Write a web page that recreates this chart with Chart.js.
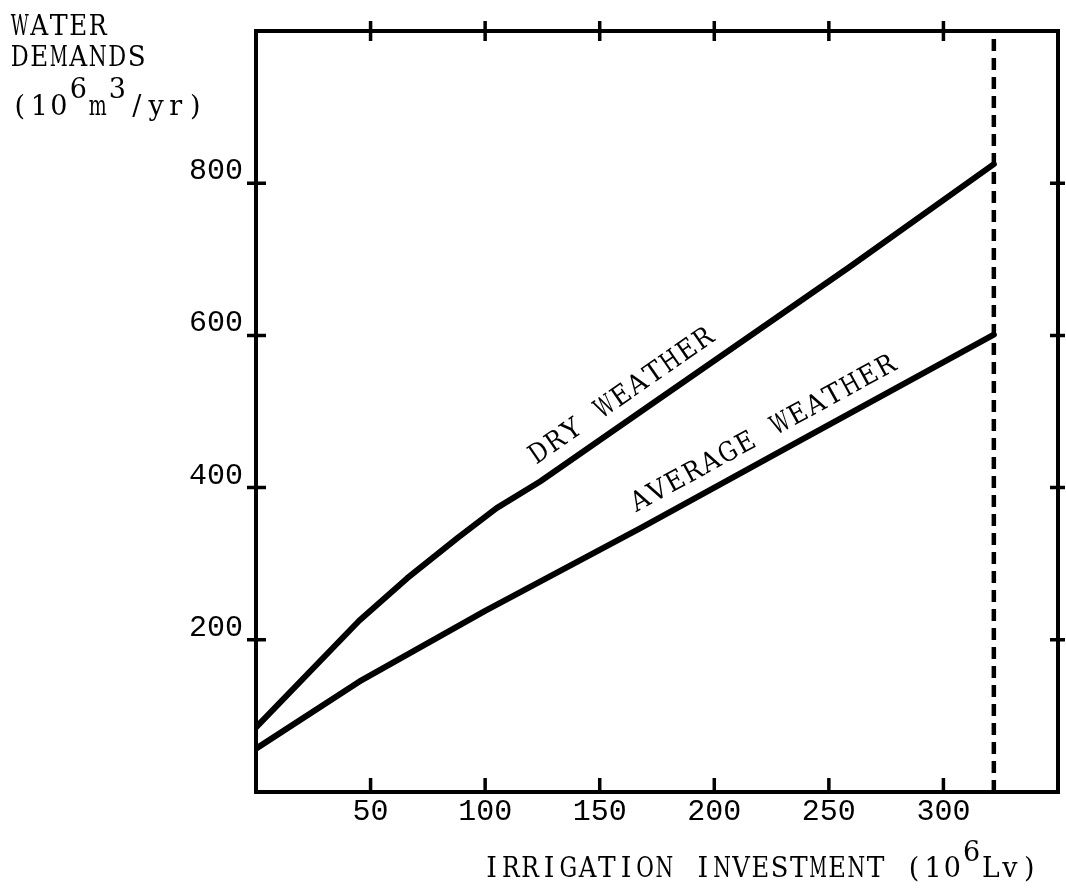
<!DOCTYPE html>
<html><head><meta charset="utf-8">
<script src="https://cdn.jsdelivr.net/npm/chart.js@4.4.0/dist/chart.umd.min.js"></script>
<style>html,body{margin:0;padding:0;background:#fff;overflow:hidden}canvas{display:block}</style>
</head><body>
<canvas id="c" width="1066" height="894"></canvas>
<script>
// ---- data ----
const xTickValues = [50, 100, 150, 200, 250, 300];
const yTickValues = [200, 400, 600, 800];
const dryX = [0, 45, 66, 88, 105, 124, 168, 259, 322];
const dryY = [85, 225, 281, 334, 373, 408, 500, 690, 825];
const avgX = [0, 45, 100, 168, 237, 322];
const avgY = [57, 145, 238, 347, 461, 601];
const limitX = 322;
const xRange = [0, 350];
const yRange = [0, 1000];
const dryLabel = 'DRY WEATHER';
const avgLabel = 'AVERAGE WEATHER';
const yTitleLines = [
  [['WATER', 0]],
  [['DEMANDS', 0]],
  [['(10', 0], ['6', 1], ['m', 0], ['3', 1], ['/yr)', 0]]
];
const xTitle = [['IRRIGATION INVESTMENT (10', 0], ['6', 1], ['Lv)', 0]];

// ---- helpers ----
const SERIF = '"DejaVu Serif", "Liberation Serif", serif';
function interp(xs, ys, v) {
  for (let i = 0; i < xs.length - 1; i++) {
    if (v >= xs[i] && v <= xs[i + 1]) {
      const t = (v - xs[i]) / (xs[i + 1] - xs[i]);
      return ys[i] + t * (ys[i + 1] - ys[i]);
    }
  }
  return ys[ys.length - 1];
}
function drawMono(ctx, segments, x, y, pitch, size, rise) {
  ctx.font = size + 'px ' + SERIF;
  ctx.textAlign = 'center';
  ctx.textBaseline = 'alphabetic';
  ctx.fillStyle = '#000';
  let i = 0;
  for (const [txt, sup] of segments) {
    for (const ch of txt) {
      if (ch !== ' ') {
        const w = ctx.measureText(ch).width;
        const max = pitch * 0.92;
        ctx.save();
        ctx.translate(x + i * pitch + pitch / 2, y - (sup ? rise : 0));
        if (w > max) ctx.scale(max / w, 1);
        ctx.fillText(ch, 0, 0);
        ctx.restore();
      }
      i++;
    }
  }
}
function lineLabel(ctx, xs, ys, text, x0, x1, sx, sy, off, pitch, size) {
  const p0 = {x: sx.getPixelForValue(x0), y: sy.getPixelForValue(interp(xs, ys, x0))};
  const p1 = {x: sx.getPixelForValue(x1), y: sy.getPixelForValue(interp(xs, ys, x1))};
  const dx = p1.x - p0.x, dy = p1.y - p0.y, len = Math.hypot(dx, dy);
  const nx = dy / len, ny = -dx / len;
  ctx.save();
  ctx.translate(p0.x + nx * off, p0.y + ny * off);
  ctx.rotate(Math.atan2(dy, dx));
  drawMono(ctx, [[text, 0]], 0, 0, pitch, size, 0);
  ctx.restore();
}

const frame = {
  id: 'frame',
  afterDatasetsDraw(chart) {
    const {ctx, chartArea: a, scales: {x, y}} = chart;
    ctx.save();
    ctx.strokeStyle = '#000';
    ctx.lineWidth = 4;
    ctx.strokeRect(a.left, a.top, a.right - a.left, a.bottom - a.top);
    ctx.lineWidth = 3.5;
    ctx.beginPath();
    for (const v of xTickValues) {
      const px = x.getPixelForValue(v);
      ctx.moveTo(px, a.top - 10); ctx.lineTo(px, a.top + 10);
      ctx.moveTo(px, a.bottom - 14); ctx.lineTo(px, a.bottom + 2);
    }
    for (const v of yTickValues) {
      const py = y.getPixelForValue(v);
      ctx.moveTo(a.left - 9, py); ctx.lineTo(a.left + 10, py);
      ctx.moveTo(a.right - 8, py); ctx.lineTo(a.right + 7, py);
    }
    ctx.stroke();
    // axis titles
    yTitleLines.forEach((segs, i) => {
      const base = [35, 66, 115][i];
      drawMono(ctx, segs, 10, base, 19.5, 27, 17);
    });
    drawMono(ctx, xTitle, 482, 877, 19.2, 27, 16);
    // line labels
    lineLabel(ctx, dryX, dryY, dryLabel, 126, 205, x, y, 16, 20, 27);
    lineLabel(ctx, avgX, avgY, avgLabel, 169, 283, x, y, 16, 20, 27);
    ctx.restore();
  }
};

const toPts = (xs, ys) => xs.map((v, i) => ({x: v, y: ys[i]}));

new Chart(document.getElementById('c'), {
  type: 'line',
  data: {
    datasets: [
      {data: toPts(dryX, dryY), borderColor: '#000', borderWidth: 6, pointRadius: 0,
       borderCapStyle: 'round', borderJoinStyle: 'round', tension: 0},
      {data: toPts(avgX, avgY), borderColor: '#000', borderWidth: 6, pointRadius: 0,
       borderCapStyle: 'round', borderJoinStyle: 'round', tension: 0},
      {data: [{x: limitX, y: yRange[0]}, {x: limitX, y: yRange[1]}], borderColor: '#000',
       borderWidth: 4.5, borderDash: [12, 7], pointRadius: 0, borderCapStyle: 'butt'}
    ]
  },
  options: {
    responsive: false,
    devicePixelRatio: 1,
    animation: false,
    layout: {padding: {top: 28, right: 8, bottom: 0, left: 0}},
    plugins: {legend: {display: false}, tooltip: {enabled: false}},
    scales: {
      x: {
        type: 'linear', min: xRange[0], max: xRange[1],
        afterBuildTicks: s => { s.ticks = xTickValues.map(v => ({value: v})); },
        afterFit: s => { s.height = 102; },
        grid: {display: false, drawTicks: false},
        border: {display: false},
        ticks: {color: '#000', padding: 2, maxRotation: 0, autoSkip: false,
                font: {family: '"Liberation Mono", monospace', size: 30}}
      },
      y: {
        type: 'linear', min: yRange[0], max: yRange[1],
        afterBuildTicks: s => { s.ticks = yTickValues.map(v => ({value: v})); },
        afterFit: s => { s.width = 256; },
        grid: {display: false, drawTicks: false},
        border: {display: false},
        ticks: {color: '#000', padding: 13, labelOffset: -12, autoSkip: false,
                font: {family: '"Liberation Mono", monospace', size: 30}}
      }
    }
  },
  plugins: [frame]
});
</script>
</body></html>
